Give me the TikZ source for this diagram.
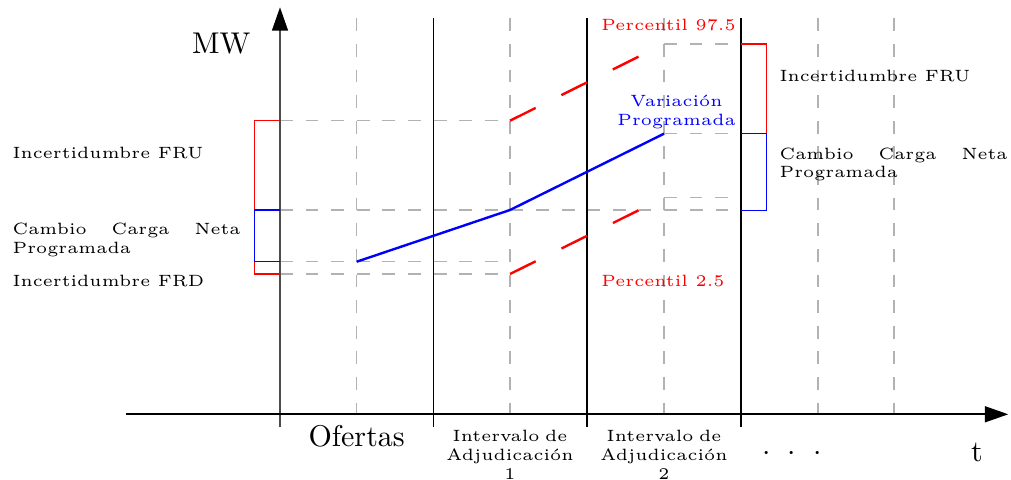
\documentclass[tikz,border=0pt]{standalone}
\usetikzlibrary{arrows.meta}
\hyphenpenalty=10000
\exhyphenpenalty=10000
\begin{document}
\begin{tikzpicture}[x=0.33333pt,y=-0.33333pt,
  guide/.style={draw=black!30, line width=0.45pt, dash pattern=on 4.27pt off 4.27pt},
  divider/.style={draw=black, line width=0.45pt},
  axisline/.style={line width=0.6pt, -{Triangle[length=7.8pt,width=5.3pt,color=black]}},
  prog/.style={draw=blue, line width=0.8pt},
  pct/.style={draw=red, line width=0.8pt, dash pattern=on 9.57pt off 9.57pt},
  small/.style={font=\fontsize{5.45}{6.33}\selectfont, inner sep=0pt},
  side/.style={small, text width=76pt, align=justify, anchor=base west},
  big/.style={font=\fontsize{10}{12}\selectfont, inner sep=0pt},
]
\useasboundingbox (0,0) rectangle (1011,480);

% named coordinates
\coordinate (Y0) at (280,427);
\coordinate (Ytop) at (280,7.3);
\coordinate (X0) at (126,414.3);
\coordinate (Xend) at (1008.3,414.3);

% vertical guides
\foreach \gx/\gn in {356.7/ga,510/gb,664/gc,818/gd,894/ge}{
  \coordinate (\gn t) at (\gx,18.3);
  \coordinate (\gn b) at (\gx,414.3);
  \draw[guide] (\gn t) -- (\gn b);
}
% horizontal guides
\coordinate (h1a) at (280,120.7); \coordinate (h1b) at (510,120.7);
\coordinate (h2a) at (280,210);   \coordinate (h2b) at (741,210);
\coordinate (h3a) at (280,261.7); \coordinate (h3b) at (510,261.7);
\coordinate (h4a) at (280,274);   \coordinate (h4b) at (510,274);
\coordinate (h5a) at (664,44);    \coordinate (h5b) at (741,44);
\coordinate (h6a) at (664,133.7); \coordinate (h6b) at (741,133.7);
\coordinate (h7a) at (664,197.7); \coordinate (h7b) at (741,197.7);
\foreach \hn in {1,...,7}{ \draw[guide] (h\hn a) -- (h\hn b); }

% dividers
\foreach \dx/\dn in {433.3/da,587/db,741/dc}{
  \coordinate (\dn t) at (\dx,18.3);
  \coordinate (\dn b) at (\dx,427);
  \draw[divider] (\dn t) -- (\dn b);
}

% axes
\draw[axisline, black!70] (Y0) -- (Ytop);
\draw[axisline, black] (X0) -- (Xend);

% left brackets
\coordinate (lr1) at (254.3,120.7); \coordinate (lr2) at (254.3,274);
\draw[red, line width=0.45pt] (h1a) -- (lr1) -- (lr2) -- (h4a);
\coordinate (lb1) at (254.3,210); \coordinate (lb2) at (254.3,261.7);
\draw[blue, line width=0.45pt] (h2a) -- (lb1) -- (lb2) -- (h3a);

% right brackets
\coordinate (rr1) at (766.7,44); \coordinate (rr2) at (766.7,133.7);
\draw[red, line width=0.45pt] (h5b) -- (rr1) -- (rr2) -- (h6b);
\coordinate (rb1) at (766.7,133.7); \coordinate (rb2) at (766.7,210.3);
\coordinate (rb3) at (741,210.3);
\draw[blue, line width=0.45pt] (h6b) -- (rb1) -- (rb2) -- (rb3);

% programmed variation
\coordinate (p1) at (356.7,261.7);
\coordinate (p2) at (510,210);
\coordinate (p3) at (664,133.7);
\draw[prog] (p1) -- (p2) -- (p3);

% percentiles
\coordinate (u1) at (510,120.7); \coordinate (u2) at (664,44);
\coordinate (l1) at (510,274);   \coordinate (l2) at (664,197.7);
\draw[pct] (u1) -- (u2);
\draw[pct] (l1) -- (l2);

% texts
\node[big, anchor=base] (mw) at (221.2,53.3) {MW};
\node[side] (lfru) at (12,158.3) {Incertidumbre FRU};
\node[side] (lccn) at (12,234.3) {Cambio Carga Neta Programada};
\node[side] (lfrd) at (12,286.3) {Incertidumbre FRD};
\node[side] (rfru) at (779,81.3) {Incertidumbre FRU};
\node[side] (rccn) at (779,159) {Cambio Carga Neta Programada};
\node[small, text=red, anchor=base west] (p975) at (600.7,30.7) {Percentil 97.5};
\node[small, text=red, anchor=base west] (p25) at (600.7,286.7) {Percentil 2.5};
\node[small, text=blue, text width=45pt, align=center, anchor=base] (varp) at (676.5,106.7) {Variación\\Programada};
\node[big, anchor=base] (of) at (356.7,446.7) {Ofertas};
\node[small, text width=50pt, align=center, anchor=base] (ia1) at (510,441.5) {Intervalo de\\Adjudicación\\1};
\node[small, text width=50pt, align=center, anchor=base] (ia2) at (664,441.5) {Intervalo de\\Adjudicación\\2};
\node[big, anchor=base] (dots) at (792,460.5) {$\cdot$\hspace{5.7pt}$\cdot$\hspace{5.7pt}$\cdot$};
\node[big, anchor=base] (tlab) at (977,462) {t};
\end{tikzpicture}
\end{document}
